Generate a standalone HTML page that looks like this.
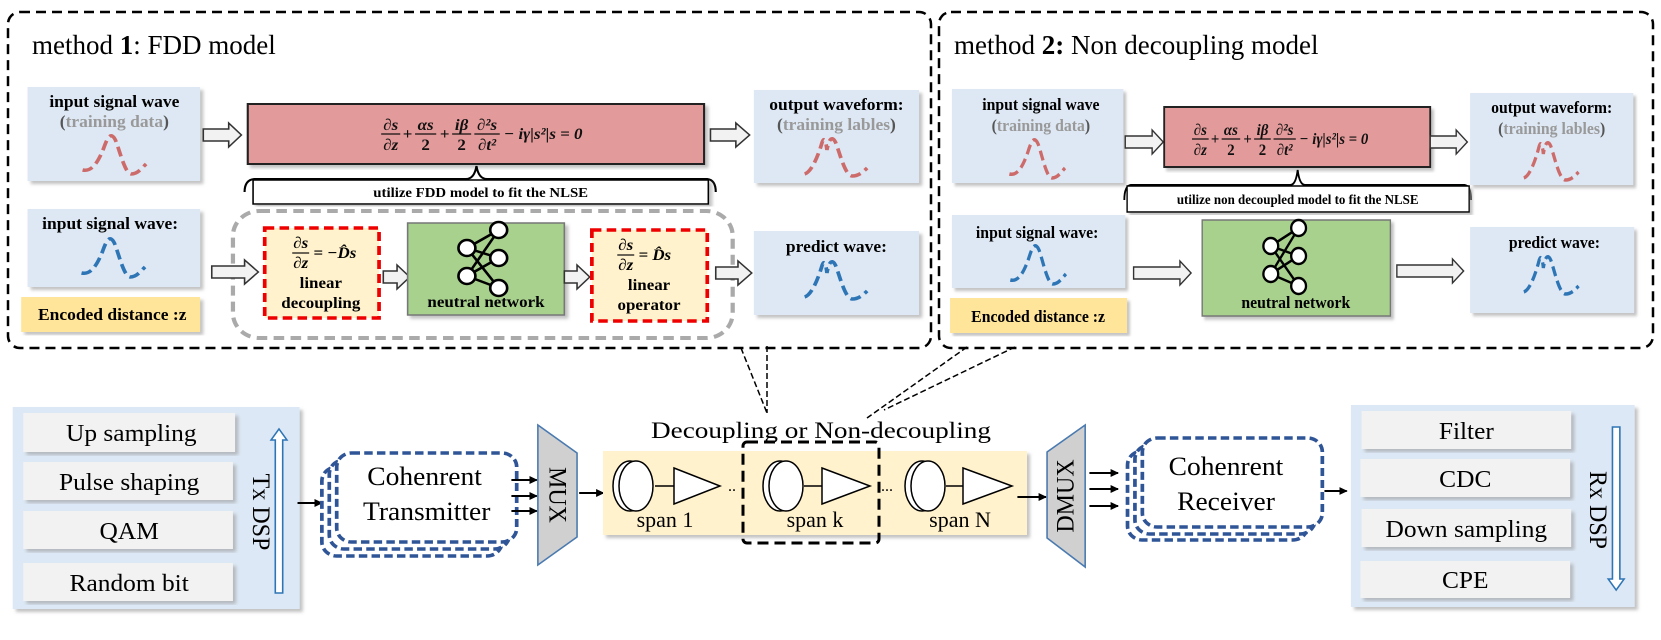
<!DOCTYPE html>
<html><head><meta charset="utf-8"><style>
html,body{margin:0;padding:0;background:#fff;}
svg{display:block;}
text{font-family:"Liberation Serif",serif;}
.b{font-weight:bold;}
.eq{font-family:"Liberation Serif",serif;font-weight:bold;font-style:italic;font-size:16px;}
</style></head><body>
<svg width="1661" height="640" viewBox="0 0 1661 640" xmlns="http://www.w3.org/2000/svg">
<defs>
<marker id="ah" markerWidth="8" markerHeight="8" refX="7" refY="4" orient="auto" markerUnits="userSpaceOnUse"><path d="M0,0 L8,4 L0,8 Z" fill="#000"/></marker>
<filter id="sh" x="-5%" y="-5%" width="115%" height="115%"><feDropShadow dx="3" dy="3" stdDeviation="1.5" flood-color="#999" flood-opacity="0.6"/></filter>
<g id="coil"><ellipse cx="17" cy="0" rx="17" ry="25" fill="#fff" stroke="#000" stroke-width="1.5"/><ellipse cx="23" cy="0" rx="17" ry="25" fill="#fff" stroke="#000" stroke-width="1.5"/></g>
<g id="nn" stroke="#000" stroke-width="2.5" fill="#fff">
<line x1="0" y1="0" x2="30" y2="-18"/><line x1="0" y1="0" x2="30" y2="10"/><line x1="0" y1="0" x2="30" y2="40"/>
<line x1="0" y1="28" x2="30" y2="-18"/><line x1="0" y1="28" x2="30" y2="10"/><line x1="0" y1="28" x2="30" y2="40"/>
<circle cx="0" cy="0" r="8"/><circle cx="0" cy="28" r="8"/><circle cx="30" cy="-18" r="8"/><circle cx="30" cy="10" r="8"/><circle cx="30" cy="40" r="8"/>
</g>
<path id="wave" d="M0 36 C8 38 14 30 20 14 C24 2 27 -2 31 6 C35 16 40 40 46 40 C52 40 56 34 60 30" fill="none" stroke-width="3.5" stroke-dasharray="10 5"/>
<path id="wave2" d="M0 38 C6 36 12 22 16 8 C18 0 20 4 21 14 C23 2 26 0 29 6 C33 16 38 40 45 40 C51 40 55 36 59 32" fill="none" stroke-width="3.5" stroke-dasharray="10 5"/>
<g id="eqn" class="eq" fill="#111">
<text x="9" y="-4" text-anchor="middle">∂s</text><line x1="0" y1="0" x2="18" y2="0" stroke="#111" stroke-width="1.2"/><text x="9" y="16" text-anchor="middle">∂z</text>
<text x="25" y="5" text-anchor="middle" font-style="normal">+</text>
<text x="42" y="-4" text-anchor="middle">αs</text><line x1="32" y1="0" x2="52" y2="0" stroke="#111" stroke-width="1.2"/><text x="42" y="16" text-anchor="middle" font-style="normal">2</text>
<text x="60" y="5" text-anchor="middle" font-style="normal">+</text>
<text x="76" y="-4" text-anchor="middle">iβ</text><line x1="67" y1="0" x2="85" y2="0" stroke="#111" stroke-width="1.2"/><text x="76" y="16" text-anchor="middle" font-style="normal">2</text>
<text x="100" y="-4" text-anchor="middle">∂²s</text><line x1="88" y1="0" x2="112" y2="0" stroke="#111" stroke-width="1.2"/><text x="100" y="16" text-anchor="middle">∂t²</text>
<text x="116" y="5">− iγ|s²|s = 0</text>
</g>
</defs>

<!-- TOP OUTER BOXES -->
<rect x="8" y="12" width="923" height="336" rx="12" fill="none" stroke="#000" stroke-width="2.5" stroke-dasharray="10 6"/>
<rect x="939" y="12" width="714" height="336" rx="12" fill="none" stroke="#000" stroke-width="2.5" stroke-dasharray="10 6"/>
<text x="32" y="54" font-size="27">method <tspan class="b">1</tspan>: FDD model</text>
<text x="954" y="54" font-size="27">method <tspan class="b">2:</tspan> Non decoupling model</text>

<!-- LEFT GROUP -->
<g transform="scale(1.0588,1)">
<rect x="26" y="87" width="163" height="94" fill="#dde8f4" filter="url(#sh)"/>
<text x="108" y="107" text-anchor="middle" class="b" font-size="16.5">input signal wave</text>
<text x="108" y="127" text-anchor="middle" class="b" font-size="16.5" fill="#999"><tspan fill="#555">(</tspan>training data<tspan fill="#555">)</tspan></text>
<use href="#wave" x="78" y="134" stroke="#cd6b6b"/>
<path d="M192 129 L216 129 L216 123 L228 135 L216 147 L216 141 L192 141 Z" fill="#f2f2f2" stroke="#333" stroke-width="1.5"/>
<rect x="234" y="104" width="431" height="60" fill="#e39a9a" stroke="#222" stroke-width="2" filter="url(#sh)"/>
<use href="#eqn" x="360" y="134"/>
<path d="M671 129 L695 129 L695 123 L708 135 L695 147 L695 141 L671 141 Z" fill="#f2f2f2" stroke="#333" stroke-width="1.5"/>
<rect x="712" y="90" width="156" height="93" fill="#dde8f4" filter="url(#sh)"/>
<text x="790" y="110" text-anchor="middle" class="b" font-size="16.5">output waveform:</text>
<text x="790" y="130" text-anchor="middle" class="b" font-size="16.5" fill="#999"><tspan fill="#555">(</tspan>training lables<tspan fill="#555">)</tspan></text>
<use href="#wave2" x="760" y="136" stroke="#cd6b6b"/>
<path d="M231 192 Q231 180 240 179 L440 179 Q448 179 450 166 Q452 179 460 179 L668 179 Q676 180 676 192" fill="none" stroke="#000" stroke-width="2"/>
<rect x="239" y="180" width="430" height="24" fill="#fff" stroke="#000" stroke-width="1.5" filter="url(#sh)"/>
<text x="454" y="197" text-anchor="middle" class="b" font-size="14">utilize  FDD model to fit the NLSE</text>
<rect x="26" y="209" width="163" height="78" fill="#dde8f4" filter="url(#sh)"/>
<text x="104" y="229" text-anchor="middle" class="b" font-size="16.5">input signal wave:</text>
<use href="#wave" x="77" y="237" stroke="#2e75b6"/>
<rect x="20" y="297" width="169" height="35" fill="#ffe599" filter="url(#sh)"/>
<text x="106" y="320" text-anchor="middle" class="b" font-size="16.5">Encoded distance :z</text>
<rect x="220" y="211" width="472" height="127" rx="25" fill="none" stroke="#aaa" stroke-width="4" stroke-dasharray="10 6"/>
<path d="M200 266 L231 266 L231 260 L244 272 L231 284 L231 278 L200 278 Z" fill="#f2f2f2" stroke="#333" stroke-width="1.5"/>
<rect x="250" y="228" width="108" height="90" fill="#fff2cc" stroke="#e00" stroke-width="3.5" stroke-dasharray="9 5"/>
<g class="eq">
<text x="284" y="248" text-anchor="middle">∂s</text><line x1="276" y1="253" x2="292" y2="253" stroke="#111" stroke-width="1.2"/><text x="284" y="268" text-anchor="middle">∂z</text>
<text x="296" y="258">= −D̂s</text></g>
<text x="303" y="288" text-anchor="middle" class="b" font-size="16">linear</text>
<text x="303" y="308" text-anchor="middle" class="b" font-size="16">decoupling</text>
<path d="M362 271 L375 271 L375 265 L387 277 L375 289 L375 283 L362 283 Z" fill="#f2f2f2" stroke="#333" stroke-width="1.5"/>
<rect x="385" y="223" width="148" height="92" fill="#a9d18e" stroke="#777" stroke-width="1.5" filter="url(#sh)"/>
<use href="#nn" x="441" y="248"/>
<text x="459" y="307" text-anchor="middle" class="b" font-size="16">neutral network</text>
<path d="M533 271 L545 271 L545 265 L557 277 L545 289 L545 283 L533 283 Z" fill="#f2f2f2" stroke="#333" stroke-width="1.5"/>
<rect x="559" y="230" width="109" height="91" fill="#fff2cc" stroke="#e00" stroke-width="3.5" stroke-dasharray="9 5"/>
<g class="eq">
<text x="591" y="250" text-anchor="middle">∂s</text><line x1="583" y1="255" x2="599" y2="255" stroke="#111" stroke-width="1.2"/><text x="591" y="270" text-anchor="middle">∂z</text>
<text x="603" y="260">= D̂s</text></g>
<text x="613" y="290" text-anchor="middle" class="b" font-size="16">linear</text>
<text x="613" y="310" text-anchor="middle" class="b" font-size="16">operator</text>
<path d="M676 267 L697 267 L697 261 L710 273 L697 285 L697 279 L676 279 Z" fill="#f2f2f2" stroke="#333" stroke-width="1.5"/>
<rect x="712" y="231" width="156" height="84" fill="#dde8f4" filter="url(#sh)"/>
<text x="790" y="252" text-anchor="middle" class="b" font-size="16.5">predict wave:</text>
<use href="#wave2" x="760" y="259" stroke="#2e75b6"/>

<!-- bottom-left -->
<rect x="12" y="407" width="271" height="202" fill="#dce8f5" filter="url(#sh)"/>
<g font-size="24" text-anchor="middle">
<rect x="22" y="413" width="200" height="39" fill="#f2f2f2" filter="url(#sh)"/><text x="124" y="441">Up sampling</text>
<rect x="22" y="462" width="198" height="38" fill="#f2f2f2" filter="url(#sh)"/><text x="122" y="490">Pulse shaping</text>
<rect x="22" y="511" width="198" height="38" fill="#f2f2f2" filter="url(#sh)"/><text x="122" y="539">QAM</text>
<rect x="22" y="563" width="198" height="38" fill="#f2f2f2" filter="url(#sh)"/><text x="122" y="591">Random bit</text>
</g>
<text transform="translate(239,512) rotate(90)" font-size="24" text-anchor="middle">Tx DSP</text>
<path d="M260 593 L260 440 L256 440 L263.5 429 L271 440 L267 440 L267 593 Z" fill="#fff" stroke="#2e75b6" stroke-width="1.5"/>
<line x1="281" y1="503" x2="304" y2="503" stroke="#000" stroke-width="2" marker-end="url(#ah)"/>
<g fill="#fff" stroke="#2f5597" stroke-width="3.5" stroke-dasharray="8 4">
<rect x="304" y="467" width="170" height="89" rx="14"/>
<rect x="311" y="460" width="170" height="89" rx="14"/>
<rect x="318" y="453" width="170" height="89" rx="14"/>
</g>
<text x="401" y="485" text-anchor="middle" font-size="26">Cohenrent</text>
<text x="403" y="520" text-anchor="middle" font-size="26">Transmitter</text>
<g stroke="#000" stroke-width="2" marker-end="url(#ah)">
<line x1="483" y1="480" x2="507" y2="480"/><line x1="483" y1="496" x2="507" y2="496"/><line x1="483" y1="511" x2="507" y2="511"/>
</g>
<polygon points="508,425 545,453 545,537 508,565" fill="#d0d0d0" stroke="#4a7ab0" stroke-width="1.5"/>
<text transform="translate(519,495) rotate(90)" font-size="24" text-anchor="middle">MUX</text>
<line x1="547" y1="493" x2="570" y2="493" stroke="#000" stroke-width="2" marker-end="url(#ah)"/>
</g>

<!-- band -->
<rect x="603" y="451" width="424" height="84" fill="#fff2cc" filter="url(#sh)"/>
<text x="821" y="438" text-anchor="middle" font-size="23" textLength="340" lengthAdjust="spacingAndGlyphs">Decoupling   or   Non-decoupling</text>
<use href="#coil" x="613" y="486"/>
<line x1="655" y1="486" x2="674" y2="486" stroke="#000" stroke-width="1.5"/>
<polygon points="674,468 720,486 674,504" fill="#fff" stroke="#000" stroke-width="1.5"/>
<text x="665" y="527" text-anchor="middle" font-size="22">span 1</text>
<text x="728" y="491" font-size="16">..</text>
<rect x="743" y="442" width="136" height="101" rx="4" fill="none" stroke="#000" stroke-width="3" stroke-dasharray="11 6"/>
<use href="#coil" x="763" y="486"/>
<line x1="804" y1="486" x2="822" y2="486" stroke="#000" stroke-width="1.5"/>
<polygon points="822,468 870,486 822,504" fill="#fff" stroke="#000" stroke-width="1.5"/>
<text x="815" y="527" text-anchor="middle" font-size="22">span k</text>
<text x="881" y="491" font-size="16">...</text>
<use href="#coil" x="905" y="486"/>
<line x1="946" y1="486" x2="963" y2="486" stroke="#000" stroke-width="1.5"/>
<polygon points="963,468 1012,486 963,504" fill="#fff" stroke="#000" stroke-width="1.5"/>
<text x="960" y="527" text-anchor="middle" font-size="22">span N</text>

<!-- connectors -->
<g stroke="#000" stroke-width="1.5" stroke-dasharray="6 3" fill="none">
<line x1="741" y1="348" x2="767" y2="413"/>
<line x1="767" y1="346" x2="767" y2="413"/>
<line x1="967" y1="347" x2="867" y2="418"/>
<line x1="1015" y1="347" x2="884" y2="410"/>
</g>

<!-- RIGHT PANEL -->
<g transform="translate(830,0) scale(0.927,1) translate(-769.5,0)">
<rect x="901" y="89" width="185" height="94" fill="#dde8f4" filter="url(#sh)"/>
<text x="997" y="110" text-anchor="middle" class="b" font-size="17">input signal wave</text>
<text x="997" y="131" text-anchor="middle" class="b" font-size="17" fill="#999"><tspan fill="#555">(</tspan>training data<tspan fill="#555">)</tspan></text>
<use href="#wave" x="963" y="138" stroke="#cd6b6b"/>
<path d="M1088 136 L1117 136 L1117 130 L1129 142 L1117 154 L1117 148 L1088 148 Z" fill="#f2f2f2" stroke="#333" stroke-width="1.5"/>
<rect x="1130" y="107" width="287" height="60" fill="#e39a9a" stroke="#222" stroke-width="2" filter="url(#sh)"/>
<use href="#eqn" x="1160" y="139"/>
<path d="M1417 136 L1445 136 L1445 130 L1457 142 L1445 154 L1445 148 L1417 148 Z" fill="#f2f2f2" stroke="#333" stroke-width="1.5"/>
<rect x="1460" y="93" width="176" height="92" fill="#dde8f4" filter="url(#sh)"/>
<text x="1548" y="113" text-anchor="middle" class="b" font-size="17">output waveform:</text>
<text x="1548" y="134" text-anchor="middle" class="b" font-size="17" fill="#999"><tspan fill="#555">(</tspan>training lables<tspan fill="#555">)</tspan></text>
<use href="#wave2" x="1518" y="140" stroke="#cd6b6b"/>
<path d="M1087 200 Q1087 186 1094 185 L1266 185 Q1272 185 1274 170 Q1276 185 1282 185 L1454 185 Q1461 186 1461 200" fill="none" stroke="#000" stroke-width="2"/>
<rect x="1090" y="186" width="369" height="26" fill="#fff" stroke="#000" stroke-width="1.5" filter="url(#sh)"/>
<text x="1274" y="204" text-anchor="middle" class="b" font-size="14">utilize non decoupled model to fit the NLSE</text>
<rect x="901" y="215" width="187" height="73" fill="#dde8f4" filter="url(#sh)"/>
<text x="993" y="238" text-anchor="middle" class="b" font-size="17">input signal wave:</text>
<use href="#wave" x="964" y="244" stroke="#2e75b6"/>
<rect x="899" y="298" width="191" height="35" fill="#ffe599" filter="url(#sh)"/>
<text x="994" y="322" text-anchor="middle" class="b" font-size="17">Encoded distance :z</text>
<path d="M1097 267 L1147 267 L1147 261 L1159 273 L1147 285 L1147 279 L1097 279 Z" fill="#f2f2f2" stroke="#333" stroke-width="1.5"/>
<rect x="1171" y="220" width="203" height="96" fill="#a9d18e" stroke="#777" stroke-width="1.5" filter="url(#sh)"/>
<use href="#nn" x="1245" y="246"/>
<text x="1272" y="308" text-anchor="middle" class="b" font-size="17">neutral network</text>
<path d="M1381 265 L1441 265 L1441 259 L1453 271 L1441 283 L1441 277 L1381 277 Z" fill="#f2f2f2" stroke="#333" stroke-width="1.5"/>
<rect x="1460" y="227" width="177" height="86" fill="#dde8f4" filter="url(#sh)"/>
<text x="1551" y="248" text-anchor="middle" class="b" font-size="17">predict wave:</text>
<use href="#wave2" x="1518" y="254" stroke="#2e75b6"/>
</g>

<!-- BOTTOM RIGHT -->
<g transform="translate(830,0) scale(1.0588,1) translate(-785,0)">
<line x1="962" y1="497" x2="989" y2="497" stroke="#000" stroke-width="2" marker-end="url(#ah)"/>
<polygon points="990,452 1026,425 1026,567 990,538" fill="#d0d0d0" stroke="#4a7ab0" stroke-width="1.5"/>
<text transform="translate(1015,496) rotate(-90)" font-size="24" text-anchor="middle">DMUX</text>
<g stroke="#000" stroke-width="2" marker-end="url(#ah)">
<line x1="1030" y1="473" x2="1057" y2="473"/><line x1="1030" y1="489" x2="1057" y2="489"/><line x1="1030" y1="506" x2="1057" y2="506"/>
</g>
<g fill="#fff" stroke="#2f5597" stroke-width="3.5" stroke-dasharray="8 4">
<rect x="1066" y="451" width="170" height="89" rx="14"/>
<rect x="1073" y="445" width="170" height="89" rx="14"/>
<rect x="1080" y="438" width="170" height="89" rx="14"/>
</g>
<text x="1159" y="475" text-anchor="middle" font-size="26">Cohenrent</text>
<text x="1159" y="510" text-anchor="middle" font-size="26">Receiver</text>
<line x1="1252" y1="491" x2="1273" y2="491" stroke="#000" stroke-width="2" marker-end="url(#ah)"/>
<rect x="1277" y="405" width="268" height="202" fill="#dce8f5" filter="url(#sh)"/>
<g font-size="24" text-anchor="middle">
<rect x="1287" y="411" width="198" height="38" fill="#f2f2f2" filter="url(#sh)"/><text x="1386" y="439">Filter</text>
<rect x="1286" y="459" width="198" height="38" fill="#f2f2f2" filter="url(#sh)"/><text x="1385" y="487">CDC</text>
<rect x="1287" y="509" width="198" height="38" fill="#f2f2f2" filter="url(#sh)"/><text x="1386" y="537">Down sampling</text>
<rect x="1286" y="561" width="198" height="37" fill="#f2f2f2" filter="url(#sh)"/><text x="1385" y="588">CPE</text>
</g>
<text transform="translate(1503,510) rotate(90)" font-size="24" text-anchor="middle">Rx DSP</text>
<path d="M1524 427 L1524 579 L1520 579 L1527.5 590 L1535 579 L1531 579 L1531 427 Z" fill="#fff" stroke="#2e75b6" stroke-width="1.5"/>
</svg>
</body></html>
